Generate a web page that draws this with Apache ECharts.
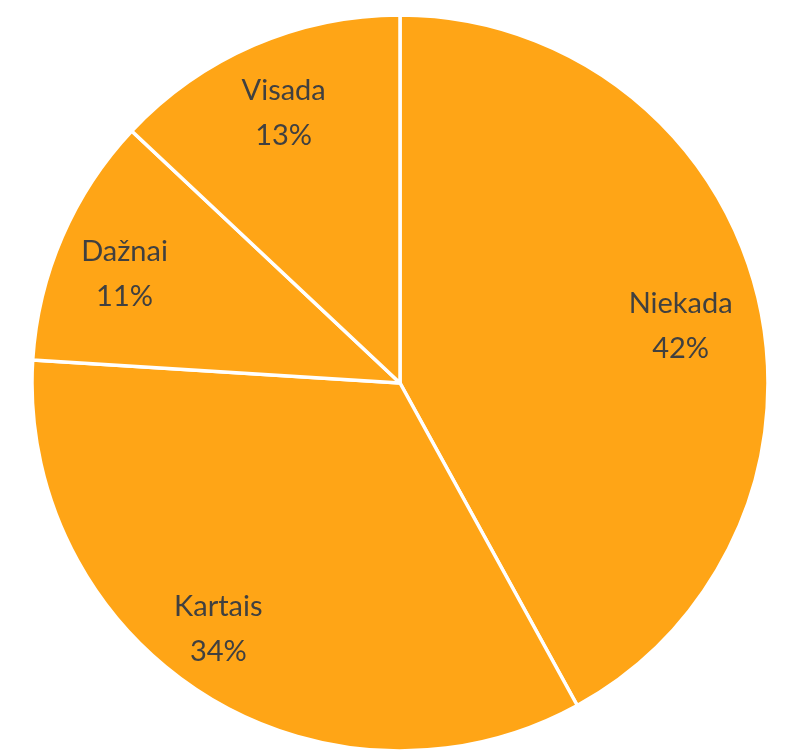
<!DOCTYPE html>
<html><head><meta charset="utf-8">
<script src="https://cdn.jsdelivr.net/npm/echarts@6/dist/echarts.min.js"></script>
<style>html,body{margin:0;padding:0;background:#fff}#c{width:786px;height:755px}</style>
</head><body><div id="c"></div>
<script>
const categories = ['Niekada', 'Kartais', 'Dažnai', 'Visada'];
const values = [42, 34, 11, 13];
const labelNudge = [[-8, 17], [-22, -5], [-2, 9], [2, 4]];
const chart = echarts.init(document.getElementById('c'));
chart.setOption({
  animation: false,
  color: ['#FFA516'],
  series: [
    {
      type: 'pie', center: [400, 383], radius: [0, 368], startAngle: 90, clockwise: true,
      silent: true, label: { show: false }, labelLine: { show: false },
      itemStyle: { color: '#FFA516', borderColor: '#ffffff', borderWidth: 3.5 },
      data: categories.map((n, i) => ({ name: n, value: values[i] }))
    },
    {
      type: 'pie', center: [400, 383], radius: [222, 368], startAngle: 90, clockwise: true,
      silent: true, labelLine: { show: false },
      itemStyle: { color: 'rgba(0,0,0,0)', borderWidth: 0 },
      label: {
        show: true, position: 'inside', formatter: '{b}\n{d}%',
        color: '#404040', fontFamily: 'Lato', fontSize: 29, lineHeight: 45
      },
      data: categories.map((n, i) => ({ name: n, value: values[i], label: { offset: labelNudge[i] } }))
    }
  ]
});
</script></body></html>
